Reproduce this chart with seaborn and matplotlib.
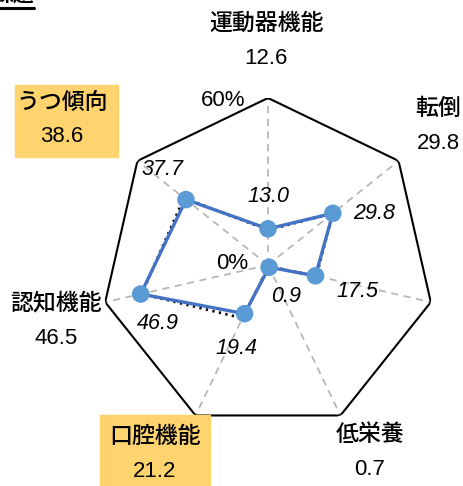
import numpy as np
import pandas as pd
import matplotlib
matplotlib.use("Agg")
import matplotlib.pyplot as plt
from matplotlib.lines import Line2D
from matplotlib import font_manager
import seaborn as sns

sns.set_style("white")
plt.rcParams['font.family'] = ['Noto Sans CJK JP', 'DejaVu Sans']
plt.rcParams['text.color'] = 'black'

available = {f.name for f in font_manager.fontManager.ttflist}
NUM_FONT = ["Liberation Sans Narrow", "DejaVu Sans"] if "Liberation Sans Narrow" in available \
    else ["Liberation Sans", "DejaVu Sans"]
num_size = 17 if "Liberation Sans Narrow" in available else 16

# ---- data ----
categories = ["運動器機能", "転倒", "", "低栄養", "口腔機能", "認知機能", "うつ傾向"]
ref_values = [12.6, 29.8, 29.8, 0.7, 21.2, 46.5, 38.6]   # labels shown under category names
series_main = [13.0, 29.8, 17.5, 0.9, 19.4, 46.9, 37.7]  # blue line
series_ref = [12.6, 29.8, 17.8, 0.7, 21.2, 46.5, 38.6]   # black dotted line
r_max = 60
tick_labels = ["0%", "60%"]

W, H = 464, 486
fig = plt.figure(figsize=(W / 100, H / 100), dpi=100)
cx, cy, R = 268, 265, 167
ax = fig.add_axes([(cx - R) / W, (H - cy - R) / H, 2 * R / W, 2 * R / H], projection="polar")
ax.set_theta_offset(np.pi / 2)
ax.set_theta_direction(-1)
ax.grid(False)
ax.spines["polar"].set_visible(False)
ax.patch.set_alpha(0)

n = len(categories)
theta = np.linspace(0, 2 * np.pi, n, endpoint=False)

# spokes
for t in theta:
    ax.plot([t, t], [0, r_max], color="#b8b8b8", lw=1.3, ls=(0, (4, 3)), zorder=1)
# outer polygon
tt = np.append(theta, theta[0])
ax.plot(tt, [r_max] * (n + 1), color="black", lw=1.5, zorder=2)

df_ref = pd.DataFrame({"theta": tt, "value": series_ref + series_ref[:1]})
df_main = pd.DataFrame({"theta": tt, "value": series_main + series_main[:1]})

sns.lineplot(data=df_ref, x="theta", y="value", sort=False, ax=ax, color="black",
             lw=2.0, ls=(0, (0.8, 1.6)), zorder=3, estimator=None)
sns.lineplot(data=df_main, x="theta", y="value", sort=False, ax=ax, color="#4472C4",
             lw=2.4, zorder=4, estimator=None)
sns.scatterplot(data=df_main.iloc[:-1], x="theta", y="value", ax=ax, color="#5B9BD5",
                s=160, edgecolor="none", zorder=5)
ax.set_xlabel("")
ax.set_ylabel("")
ax.set_xticks([])
ax.set_yticks([])
ax.set_ylim(0, r_max)

# data value labels (italic)
offsets = [(0, 23), (30, 0), (30, -11), (12, -21), (-6, -25), (12, -21), (-17, 22)]
for t, v, off in zip(theta, series_main, offsets):
    ax.annotate(f"{v:.1f}", xy=(t, v), xytext=off, textcoords="offset points",
                ha="center", va="center", fontsize=15.5, style="italic",
                family=["Liberation Sans", "DejaVu Sans"], zorder=6)

# tick labels
fig.text(223 / W, 1 - 100 / H, tick_labels[1], ha="center", va="center", fontsize=num_size,
         family=NUM_FONT)
fig.text(232 / W, 1 - 263 / H, tick_labels[0], ha="center", va="center", fontsize=num_size,
         family=NUM_FONT)

# category labels (pixel positions of name line)
label_pos = [(266, 23), (438, 108), None, (370, 434), (155, 436), (56, 303), (62, 102)]
boxes = {4: (100, 415, 110, 71), 6: (15, 85, 103, 72)}
for i, (cat, val, pos) in enumerate(zip(categories, ref_values, label_pos)):
    if pos is None:
        continue
    x, y = pos
    if i in boxes:
        bx, by, bw, bh = boxes[i]
        fig.patches.append(plt.Rectangle((bx / W, 1 - (by + bh) / H), bw / W, bh / H,
                                         transform=fig.transFigure, color="#FFD36E", zorder=0))
    fig.text(x / W, 1 - y / H, cat, ha="center", va="center", fontsize=16.5, fontweight="medium")
    fig.text(x / W, 1 - (y + 35) / H, f"{val:.1f}", ha="center", va="center", fontsize=num_size,
             family=NUM_FONT)

# cropped title fragment
fig.text(34 / W, 1 - 4 / H, "課題", ha="right", va="bottom", fontsize=15, fontweight="bold")
fig.add_artist(Line2D([0, 34 / W], [1 - 8 / H, 1 - 8 / H], transform=fig.transFigure,
                      color="black", lw=2.2))

fig.savefig("out.png", dpi=100)
